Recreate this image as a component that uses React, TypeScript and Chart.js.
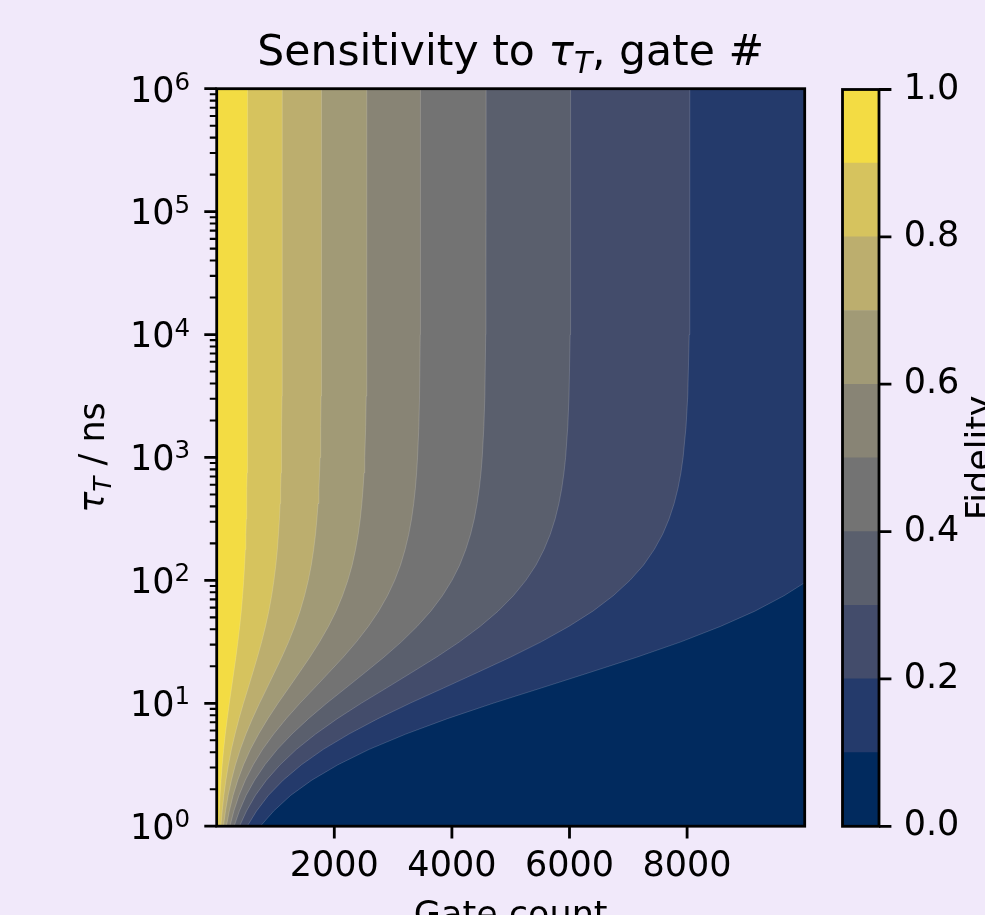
import React, { useEffect, useRef } from 'react';
import { Chart, registerables } from 'chart.js';

Chart.register(...registerables);

// ---------------- data ----------------
// tau_T values (ns) at which the contour boundaries were read (1/8-decade steps up to 10^3)
const tauGrid = [1, 1.33, 1.78, 2.37, 3.16, 4.22, 5.62, 7.5, 10, 13.3, 17.8, 23.7, 31.6, 42.2, 56.2, 75, 100,
  133, 178, 237, 316, 422, 562, 750, 1000, 1778, 3162, 10000, 31623, 100000, 1000000];
// gate count where fidelity crosses each level, at each tauGrid value
const gateAt09 = [34, 44, 58, 74, 94, 119, 147, 180, 215, 252, 290, 327, 361, 392, 419, 441, 460,
  475, 487, 496, 504, 509, 514, 517, 519, 523, 524, 526, 527, 527, 527];
const gateAt08 = [72, 94, 122, 157, 200, 251, 312, 380, 455, 535, 615, 692, 765, 830, 887, 935, 974,
  1006, 1032, 1051, 1067, 1079, 1088, 1095, 1100, 1107, 1111, 1114, 1115, 1116, 1116];
const gateAt07 = [115, 150, 195, 251, 319, 402, 498, 608, 728, 855, 982, 1107, 1223, 1327, 1418, 1494, 1558,
  1609, 1649, 1681, 1705, 1724, 1739, 1750, 1758, 1769, 1775, 1781, 1783, 1783, 1783];
const gateAt06 = [165, 215, 279, 359, 457, 575, 714, 871, 1043, 1224, 1407, 1585, 1751, 1901, 2031, 2140, 2231,
  2304, 2362, 2407, 2442, 2469, 2490, 2506, 2518, 2534, 2543, 2550, 2553, 2554, 2554];
const gateAt05 = [224, 292, 379, 487, 621, 781, 969, 1182, 1415, 1661, 1909, 2151, 2376, 2579, 2755, 2904, 3027,
  3126, 3204, 3266, 3314, 3351, 3379, 3400, 3416, 3438, 3450, 3461, 3464, 3465, 3466];
const gateAt04 = [296, 386, 500, 644, 820, 1032, 1280, 1562, 1870, 2195, 2524, 2843, 3141, 3409, 3642, 3839, 4001,
  4132, 4236, 4318, 4381, 4429, 4466, 4495, 4516, 4544, 4561, 4575, 4579, 4581, 4582];
const gateAt03 = [388, 507, 658, 846, 1078, 1356, 1682, 2052, 2457, 2885, 3316, 3736, 4128, 4480, 4786, 5045, 5258,
  5430, 5566, 5673, 5756, 5820, 5869, 5906, 5934, 5971, 5992, 6011, 6017, 6019, 6020];
const gateAt02 = [519, 678, 879, 1131, 1441, 1813, 2249, 2743, 3285, 3856, 4433, 4994, 5518, 5988, 6398, 6743, 7028,
  7258, 7440, 7584, 7694, 7780, 7845, 7895, 7932, 7982, 8011, 8036, 8044, 8046, 8047];
// the 0.1 boundary leaves the plot through the right edge
const tauAt01 = [1, 1.33, 1.78, 2.37, 3.16, 4.22, 5.62, 7.5, 10, 13.3, 17.8, 23.7, 31.6, 42.2, 56.2, 75, 95.8];
const gateAt01 = [743, 970, 1257, 1618, 2062, 2594, 3217, 3925, 4699, 5517, 6342, 7144, 7894, 8567, 9153, 9648, 10000];

const contourLevels = [0.9, 0.8, 0.7, 0.6, 0.5, 0.4, 0.3, 0.2, 0.1];
const fidelityEdges = [0, 0.1, 0.2, 0.3, 0.4, 0.5, 0.6, 0.7, 0.8, 0.9, 1.0];
// colour of band [0-0.1, 0.1-0.2, ..., 0.9-1.0]
const bandColors = ['#012a5e', '#243a6b', '#434c6b', '#5a5f6d', '#737373', '#888475', '#a19a76', '#bcae6e', '#d6c35e', '#f3dc43'];

const gateLimits = [0, 10000];
const tauLimits = [1, 1000000];
const xTickValues = [2000, 4000, 6000, 8000];
const yDecades = [1, 10, 100, 1000, 10000, 100000, 1000000];
const yMinorMantissas = [2, 3, 4, 5, 6, 7, 8, 9];
const cbTickValues = [0, 0.2, 0.4, 0.6, 0.8, 1.0];

// ---------------- layout / style ----------------
const W = 985;
const H = 915;
const AX = { left: 216.7, right: 804.7, top: 88.7, bottom: 826.2 };
const CB = { left: 842.5, right: 879, top: 89.5, bottom: 826.3 };
const FONT = "'DejaVu Sans'";
const TICK_PX = 35;
const TITLE_PX = 42.5;
const BG = '#f1e9fa';
const MAJ_LEN = 12.4;
const MIN_LEN = 6.9;
const SPINE_W = 2.8;

type Part = { text: string; font: string; dy?: number };

function drawRich(ctx: CanvasRenderingContext2D, parts: Part[], x: number, y: number) {
  let total = 0;
  const widths: number[] = [];
  for (const p of parts) {
    ctx.font = p.font;
    const w = ctx.measureText(p.text).width;
    widths.push(w);
    total += w;
  }
  let cx = x - total / 2;
  ctx.textAlign = 'left';
  ctx.textBaseline = 'alphabetic';
  parts.forEach((p, i) => {
    ctx.font = p.font;
    ctx.fillText(p.text, cx, y + (p.dy || 0));
    cx += widths[i];
  });
}

function regionOutline(tau: number[], gate: number[]) {
  const pts: { x: number; y: number }[] = [{ x: gateLimits[0], y: tauLimits[0] }];
  tau.forEach((t, i) => pts.push({ x: gate[i], y: t }));
  if (tau[tau.length - 1] < tauLimits[1]) pts.push({ x: gateLimits[1], y: tauLimits[1] });
  pts.push({ x: gateLimits[0], y: tauLimits[1] });
  return pts;
}

const boundaryTau = [tauGrid, tauGrid, tauGrid, tauGrid, tauGrid, tauGrid, tauGrid, tauGrid, tauAt01];
const boundaryGate = [gateAt09, gateAt08, gateAt07, gateAt06, gateAt05, gateAt04, gateAt03, gateAt02, gateAt01];

const mainDecor = {
  id: 'mainDecor',
  afterDraw(chart: any) {
    const { ctx, chartArea: a, scales } = chart;
    const xs = scales.x;
    const ys = scales.y;
    ctx.save();
    ctx.strokeStyle = '#000';
    ctx.fillStyle = '#000';
    ctx.lineCap = 'butt';
    // major ticks
    ctx.lineWidth = SPINE_W;
    ctx.beginPath();
    for (const v of xTickValues) {
      const px = xs.getPixelForValue(v);
      ctx.moveTo(px, a.bottom);
      ctx.lineTo(px, a.bottom + MAJ_LEN);
    }
    for (const v of yDecades) {
      const py = ys.getPixelForValue(v);
      ctx.moveTo(a.left, py);
      ctx.lineTo(a.left - MAJ_LEN, py);
    }
    ctx.stroke();
    // minor log ticks
    ctx.lineWidth = 2.1;
    ctx.beginPath();
    for (let i = 0; i < yDecades.length - 1; i++) {
      for (const m of yMinorMantissas) {
        const py = ys.getPixelForValue(yDecades[i] * m);
        ctx.moveTo(a.left, py);
        ctx.lineTo(a.left - MIN_LEN, py);
      }
    }
    ctx.stroke();
    // spines
    ctx.lineWidth = SPINE_W;
    ctx.strokeRect(a.left, a.top, a.right - a.left, a.bottom - a.top);

    // y tick labels 10^k with a raised exponent
    const labelRight = a.left - 26.7;
    for (const v of yDecades) {
      const py = ys.getPixelForValue(v);
      const e = String(Math.round(Math.log10(v)));
      ctx.textAlign = 'right';
      ctx.textBaseline = 'alphabetic';
      ctx.font = `${TICK_PX * 0.7}px ${FONT}`;
      const ew = ctx.measureText(e).width;
      ctx.fillText(e, labelRight, py + 1);
      ctx.font = `${TICK_PX}px ${FONT}`;
      ctx.fillText('10', labelRight - ew, py + 12.8);
    }

    const cx = (a.left + a.right) / 2;
    // title
    drawRich(ctx, [
      { text: 'Sensitivity to ', font: `${TITLE_PX}px ${FONT}` },
      { text: 'τ', font: `italic ${TITLE_PX}px ${FONT}` },
      { text: 'T', font: `italic ${TITLE_PX * 0.7}px ${FONT}`, dy: TITLE_PX * 0.19 },
      { text: ', gate #', font: `${TITLE_PX}px ${FONT}` },
    ], cx, 65);
    // x label
    drawRich(ctx, [{ text: 'Gate count', font: `${TICK_PX}px ${FONT}` }], cx, 925.5);
    // y label
    ctx.save();
    ctx.translate(104, (a.top + a.bottom) / 2);
    ctx.rotate(-Math.PI / 2);
    drawRich(ctx, [
      { text: 'τ', font: `italic ${TICK_PX}px ${FONT}` },
      { text: 'T', font: `italic ${TICK_PX * 0.7}px ${FONT}`, dy: TICK_PX * 0.19 },
      { text: ' / ns', font: `${TICK_PX}px ${FONT}` },
    ], 0, 0);
    ctx.restore();
    ctx.restore();
  },
};

const cbDecor = {
  id: 'cbDecor',
  afterDraw(chart: any) {
    const { ctx, chartArea: a, scales } = chart;
    const ys = scales.y;
    ctx.save();
    ctx.strokeStyle = '#000';
    ctx.fillStyle = '#000';
    ctx.lineCap = 'butt';
    ctx.lineWidth = SPINE_W;
    ctx.beginPath();
    for (const v of cbTickValues) {
      const py = ys.getPixelForValue(v);
      ctx.moveTo(a.right, py);
      ctx.lineTo(a.right + MAJ_LEN, py);
    }
    ctx.stroke();
    ctx.strokeRect(a.left, a.top, a.right - a.left, a.bottom - a.top);
    ctx.save();
    ctx.translate(991, (a.top + a.bottom) / 2);
    ctx.rotate(-Math.PI / 2);
    drawRich(ctx, [{ text: 'Fidelity', font: `${TICK_PX}px ${FONT}` }], 0, 0);
    ctx.restore();
    ctx.restore();
  },
};

export default function App() {
  const mainRef = useRef<HTMLCanvasElement | null>(null);
  const cbRef = useRef<HTMLCanvasElement | null>(null);

  useEffect(() => {
    document.body.style.margin = '0';
    document.body.style.background = BG;

    const datasets: any[] = contourLevels.map((lv, i) => ({
      data: regionOutline(boundaryTau[i], boundaryGate[i]),
      backgroundColor: bandColors[Math.round(lv * 10)],
      borderColor: 'rgba(255,255,255,0.16)',
      borderWidth: 1,
      fill: 'shape',
      pointRadius: 0,
      pointHoverRadius: 0,
      tension: 0,
    }));
    datasets.push({
      data: [
        { x: gateLimits[0], y: tauLimits[0] },
        { x: gateLimits[1], y: tauLimits[0] },
        { x: gateLimits[1], y: tauLimits[1] },
        { x: gateLimits[0], y: tauLimits[1] },
      ],
      backgroundColor: bandColors[0],
      borderWidth: 0,
      fill: 'shape',
      pointRadius: 0,
      tension: 0,
    });

    const main = new Chart(mainRef.current as HTMLCanvasElement, {
      type: 'line',
      data: { datasets },
      options: {
        animation: false,
        responsive: false,
        events: [],
        layout: { padding: { left: 0, right: W - AX.right, top: AX.top, bottom: 0 } },
        plugins: { legend: { display: false }, tooltip: { enabled: false }, title: { display: false } },
        scales: {
          x: {
            type: 'linear',
            position: 'bottom',
            min: gateLimits[0],
            max: gateLimits[1],
            afterBuildTicks: (s: any) => { s.ticks = xTickValues.map((v) => ({ value: v })); },
            afterFit: (s: any) => { s.height = H - AX.bottom; },
            grid: { display: false, drawTicks: false },
            border: { display: false },
            ticks: {
              autoSkip: false,
              maxRotation: 0,
              padding: 20,
              color: '#000',
              font: { family: 'DejaVu Sans', size: TICK_PX },
              callback: (v: any) => String(v),
            },
          },
          y: {
            type: 'logarithmic',
            position: 'left',
            min: tauLimits[0],
            max: tauLimits[1],
            afterBuildTicks: (s: any) => { s.ticks = yDecades.map((v) => ({ value: v, major: true })); },
            afterFit: (s: any) => { s.width = AX.left; },
            grid: { display: false, drawTicks: false },
            border: { display: false },
            ticks: { display: false },
          },
        },
      } as any,
      plugins: [mainDecor],
    });

    const cbDatasets = bandColors.map((c, i) => ({
      data: [[fidelityEdges[i], fidelityEdges[i + 1]]],
      backgroundColor: c,
      borderWidth: 0,
      barPercentage: 1,
      categoryPercentage: 1,
      grouped: false,
    }));

    const cb = new Chart(cbRef.current as HTMLCanvasElement, {
      type: 'bar',
      data: { labels: [''], datasets: cbDatasets as any },
      options: {
        animation: false,
        responsive: false,
        events: [],
        layout: { padding: { left: CB.left, right: 0, top: CB.top, bottom: H - CB.bottom } },
        plugins: { legend: { display: false }, tooltip: { enabled: false } },
        scales: {
          x: { display: false },
          y: {
            position: 'right',
            min: 0,
            max: 1,
            afterBuildTicks: (s: any) => { s.ticks = cbTickValues.map((v) => ({ value: v })); },
            afterFit: (s: any) => { s.width = W - CB.right; },
            grid: { display: false, drawTicks: false },
            border: { display: false },
            ticks: {
              autoSkip: false,
              padding: 24.7,
              color: '#000',
              font: { family: 'DejaVu Sans', size: TICK_PX },
              callback: (v: any) => Number(v).toFixed(1),
            },
          },
        },
      } as any,
      plugins: [cbDecor],
    });

    return () => {
      main.destroy();
      cb.destroy();
    };
  }, []);

  return (
    <div style={{ position: 'absolute', left: 0, top: 0, width: W, height: H, background: BG, overflow: 'hidden' }}>
      <canvas ref={mainRef} width={W} height={H} style={{ position: 'absolute', left: 0, top: 0 }} />
      <canvas ref={cbRef} width={W} height={H} style={{ position: 'absolute', left: 0, top: 0 }} />
    </div>
  );
}
